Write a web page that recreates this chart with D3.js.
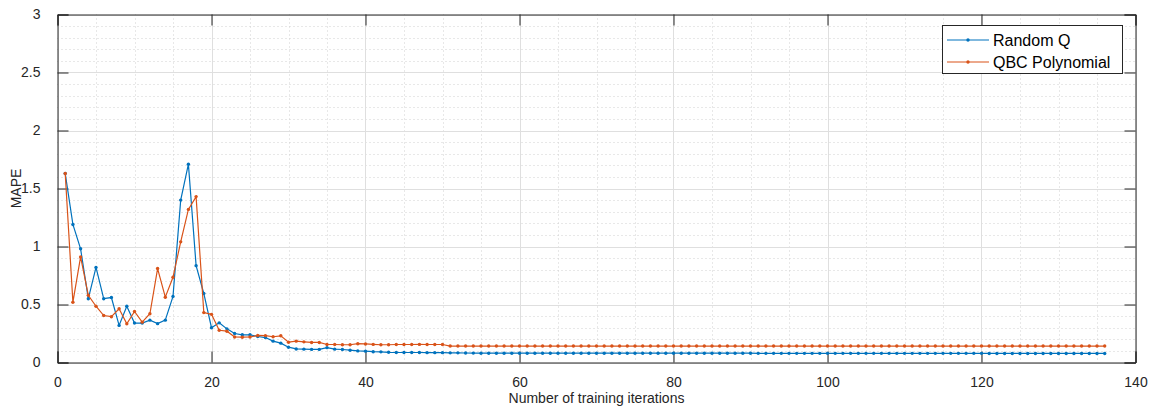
<!DOCTYPE html>
<html>
<head>
<meta charset="utf-8">
<script src="https://cdn.jsdelivr.net/npm/d3@7"></script>
<style>
  body { margin: 0; background: #fff; }
  svg { display: block; font-family: "Liberation Sans", Arial, sans-serif; }
</style>
</head>
<body>
<svg id="chart" width="1149" height="407"></svg>
<script>
// ---- data ----
const iterations = d3.range(1, 137);
const randomQ = [
  1.63, 1.19, 0.98, 0.55, 0.82, 0.55, 0.56, 0.32, 0.485, 0.34,
  0.34, 0.365, 0.335, 0.365, 0.57, 1.40, 1.71, 0.835, 0.595, 0.30,
  0.342, 0.29, 0.25, 0.239, 0.239, 0.224, 0.215, 0.184, 0.167, 0.132,
  0.117, 0.115, 0.113, 0.113, 0.128, 0.115, 0.112, 0.106, 0.100, 0.098,
  0.093, 0.092, 0.088, 0.086, 0.086, 0.086, 0.086, 0.085, 0.085, 0.085,
  0.083, 0.083, 0.082, 0.081, 0.080, 0.080, 0.080, 0.080, 0.080, 0.080,
  0.080, 0.080, 0.080, 0.080, 0.080, 0.080, 0.080, 0.080, 0.080, 0.080,
  0.080, 0.080, 0.080, 0.080, 0.080, 0.080, 0.080, 0.080, 0.080, 0.080,
  0.080, 0.080, 0.080, 0.080, 0.080, 0.080, 0.080, 0.080, 0.080, 0.080,
  0.079, 0.079, 0.079, 0.079, 0.079, 0.079, 0.079, 0.079, 0.079, 0.079,
  0.079, 0.079, 0.079, 0.079, 0.079, 0.079, 0.079, 0.079, 0.079, 0.079,
  0.079, 0.079, 0.079, 0.079, 0.079, 0.079, 0.079, 0.079, 0.079, 0.079,
  0.078, 0.078, 0.078, 0.078, 0.078, 0.078, 0.078, 0.078, 0.078, 0.078,
  0.078, 0.078, 0.078, 0.078, 0.078, 0.078
];
const qbcPolynomial = [
  1.63, 0.52, 0.91, 0.58, 0.485, 0.405, 0.395, 0.463, 0.333, 0.44,
  0.348, 0.42, 0.81, 0.563, 0.735, 1.04, 1.32, 1.43, 0.43, 0.415,
  0.278, 0.27, 0.22, 0.218, 0.22, 0.233, 0.232, 0.222, 0.23, 0.175,
  0.184, 0.178, 0.173, 0.173, 0.155, 0.155, 0.153, 0.153, 0.162, 0.160,
  0.156, 0.153, 0.153, 0.155, 0.155, 0.155, 0.156, 0.155, 0.155, 0.155,
  0.142, 0.142, 0.142, 0.142, 0.142, 0.142, 0.142, 0.142, 0.142, 0.142,
  0.142, 0.142, 0.142, 0.142, 0.142, 0.142, 0.142, 0.142, 0.142, 0.142,
  0.142, 0.142, 0.142, 0.142, 0.142, 0.142, 0.142, 0.142, 0.142, 0.142,
  0.142, 0.142, 0.142, 0.142, 0.142, 0.142, 0.142, 0.142, 0.142, 0.142,
  0.142, 0.142, 0.142, 0.142, 0.142, 0.142, 0.142, 0.142, 0.142, 0.142,
  0.142, 0.142, 0.142, 0.142, 0.142, 0.142, 0.142, 0.142, 0.142, 0.142,
  0.142, 0.142, 0.142, 0.142, 0.142, 0.142, 0.142, 0.142, 0.142, 0.142,
  0.142, 0.142, 0.142, 0.142, 0.142, 0.142, 0.142, 0.142, 0.142, 0.142,
  0.142, 0.142, 0.142, 0.142, 0.142, 0.142
];
const seriesNames = ["Random Q", "QBC Polynomial"];
const seriesColors = ["#0072BD", "#D95319"];
const xTicks = [0, 20, 40, 60, 80, 100, 120, 140];
const yTicks = [0, 0.5, 1, 1.5, 2, 2.5, 3];
const xMinorTicks = d3.range(0, 141, 5);
const yMinorTicks = d3.range(0, 31).map(d => d / 10);
const xLabel = "Number of training iterations";
const yLabel = "MAPE";

// ---- layout ----
const L = 57.5, R = 1135.5, T = 14.5, B = 362.5;
const svg = d3.select("#chart");
const x = d3.scaleLinear().domain([0, 140]).range([L, R]);
const y = d3.scaleLinear().domain([0, 3]).range([B, T]);
const axisColor = "#262626";
const tickLen = 11;

// minor grid (dotted)
const g = svg.append("g");
g.selectAll(".xminor").data(xMinorTicks.filter(d => d % 20 !== 0)).join("line")
  .attr("x1", d => Math.round(x(d)) + 0.5).attr("x2", d => Math.round(x(d)) + 0.5)
  .attr("y1", T).attr("y2", B)
  .attr("stroke", "#d0d0d0").attr("stroke-width", 1).attr("stroke-dasharray", "1,3");
g.selectAll(".yminor").data(yMinorTicks.filter(d => Math.abs(d * 2 - Math.round(d * 2)) > 1e-6)).join("line")
  .attr("x1", L).attr("x2", R)
  .attr("y1", d => Math.round(y(d)) + 0.5).attr("y2", d => Math.round(y(d)) + 0.5)
  .attr("stroke", "#d0d0d0").attr("stroke-width", 1).attr("stroke-dasharray", "1,3");
// major grid
g.selectAll(".xmajor").data(xTicks).join("line")
  .attr("x1", d => Math.round(x(d)) + 0.5).attr("x2", d => Math.round(x(d)) + 0.5)
  .attr("y1", T).attr("y2", B)
  .attr("stroke", "#dfdfdf").attr("stroke-width", 1);
g.selectAll(".ymajor").data(yTicks).join("line")
  .attr("x1", L).attr("x2", R)
  .attr("y1", d => Math.round(y(d)) + 0.5).attr("y2", d => Math.round(y(d)) + 0.5)
  .attr("stroke", "#dfdfdf").attr("stroke-width", 1);

// axes via d3 axis (inward ticks)
const fontSize = 14;
const bottomAxis = svg.append("g").attr("transform", `translate(0,${B})`)
  .call(d3.axisBottom(x).tickValues(xTicks).tickSize(-tickLen).tickPadding(tickLen + 4).tickFormat(d3.format("d")));
const leftAxis = svg.append("g").attr("transform", `translate(${L},0)`)
  .call(d3.axisLeft(y).tickValues(yTicks).tickSize(-tickLen).tickPadding(tickLen + 6).tickFormat(d => d3.format("")(d)));
const topAxis = svg.append("g").attr("transform", `translate(0,${T})`)
  .call(d3.axisTop(x).tickValues(xTicks).tickSize(-tickLen).tickFormat(""));
const rightAxis = svg.append("g").attr("transform", `translate(${R},0)`)
  .call(d3.axisRight(y).tickValues(yTicks).tickSize(-tickLen).tickFormat(""));
[bottomAxis, leftAxis, topAxis, rightAxis].forEach(a => {
  a.select(".domain").attr("stroke", axisColor).attr("stroke-width", 1);
  a.selectAll(".tick line").attr("stroke", axisColor).attr("stroke-width", 1);
  a.selectAll("text").attr("fill", axisColor).style("font-size", fontSize + "px")
    .style("font-family", "'Liberation Sans', Arial, sans-serif");
});

// data lines
const clip = svg.append("clipPath").attr("id", "clip").append("rect")
  .attr("x", L).attr("y", T).attr("width", R - L).attr("height", B - T);
const plot = svg.append("g").attr("clip-path", "url(#clip)");
const allSeries = [randomQ, qbcPolynomial];
allSeries.forEach((vals, i) => {
  const pts = iterations.map((it, k) => [it, vals[k]]);
  plot.append("path").datum(pts)
    .attr("fill", "none").attr("stroke", seriesColors[i]).attr("stroke-width", 1.2)
    .attr("d", d3.line().x(d => x(d[0])).y(d => y(d[1])));
  plot.selectAll(".m" + i).data(pts).join("circle")
    .attr("cx", d => x(d[0])).attr("cy", d => y(d[1])).attr("r", 1.7)
    .attr("fill", seriesColors[i]);
});

// axis labels
svg.append("text").attr("x", (L + R) / 2).attr("y", 403)
  .attr("text-anchor", "middle").attr("fill", axisColor).style("font-size", "14px")
  .text(xLabel);
svg.append("text").attr("transform", `translate(21,${(T + B) / 2}) rotate(-90)`)
  .attr("text-anchor", "middle").attr("fill", axisColor).style("font-size", "14px")
  .text(yLabel);

// legend
const lg = svg.append("g");
lg.append("rect").attr("x", 942.5).attr("y", 25.5).attr("width", 180).attr("height", 48)
  .attr("fill", "#fff").attr("stroke", axisColor).attr("stroke-width", 1);
seriesNames.forEach((name, i) => {
  const cy = 40 + i * 22;
  lg.append("line").attr("x1", 947).attr("x2", 989).attr("y1", cy).attr("y2", cy)
    .attr("stroke", seriesColors[i]).attr("stroke-width", 1.2);
  lg.append("circle").attr("cx", 968).attr("cy", cy).attr("r", 1.7).attr("fill", seriesColors[i]);
  lg.append("text").attr("x", 993).attr("y", cy + 5.5).attr("fill", "#000")
    .style("font-size", "16px").text(name);
});
</script>
</body>
</html>
